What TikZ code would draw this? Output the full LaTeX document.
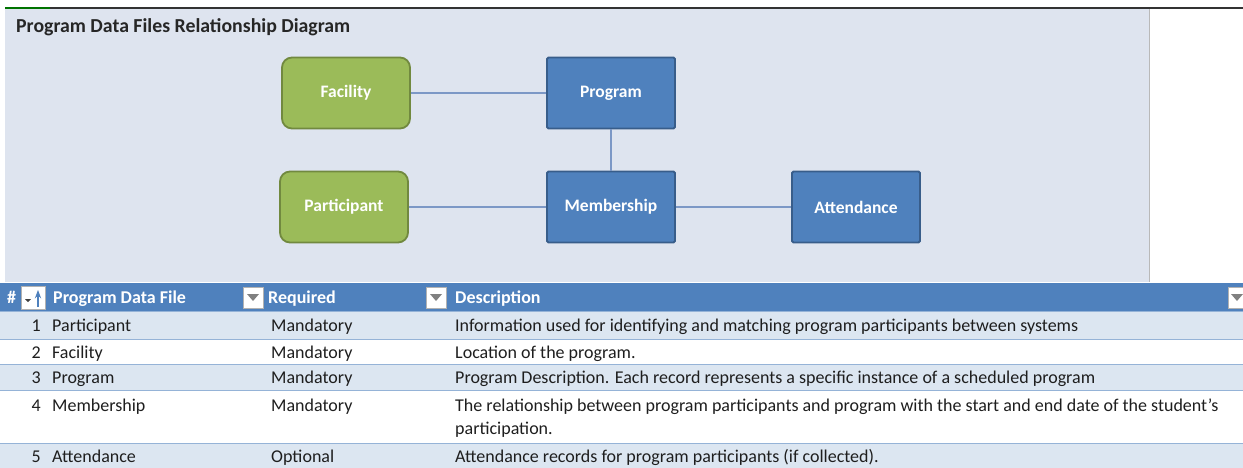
\documentclass[tikz,border=0pt]{standalone}
\usepackage{fontspec}
\setmainfont{Carlito}
\usepackage{tikz}
\usetikzlibrary{arrows.meta}
\usepackage{xcolor}
\definecolor{panelbg}{RGB}{222, 228, 239}
\definecolor{facgreen}{RGB}{155, 187, 89}
\definecolor{facgreenD}{RGB}{113, 137, 63}
\definecolor{progblue}{RGB}{79, 129, 189}
\definecolor{progblueD}{RGB}{56, 93, 138}
\definecolor{linkblue}{RGB}{124, 152, 198}
\definecolor{bandblue}{RGB}{220, 230, 241}
\definecolor{rulblue}{RGB}{149, 179, 215}
\definecolor{celltext}{RGB}{30, 30, 30}

\tikzset{
  entity/.style={minimum width=128pt, minimum height=71pt, line width=1.8pt,
    text=white, font=\fontsize{17.5}{20}\selectfont\bfseries},
  greenbox/.style={entity, rounded corners=10pt, fill=facgreen, draw=facgreenD},
  bluebox/.style={entity, rounded corners=1.5pt, fill=progblue, draw=progblueD},
  link/.style={draw=linkblue, line width=2.5pt},
  cell/.style={anchor=base west, inner sep=0pt, text=celltext, font=\fontsize{18}{23}\selectfont},
  headcell/.style={cell, text=white, font=\fontsize{18}{23}\selectfont\bfseries},
  ddbox/.style={fill=white, draw=gray!60, line width=0.6pt}
}

\begin{document}
\begin{tikzpicture}[x=1pt, y=-1pt, >=Stealth]
  \useasboundingbox (0,0) rectangle (1243,468);

  % Chart panel
  \fill[panelbg] (5,9) rectangle (1149,282);
  \draw[gray!55, line width=1pt] (1149,9) -- (1149,282);
  \draw[black!80, line width=2pt] (5,8) -- (1243,8);
  \draw[green!45!black, line width=2pt] (5,8) -- (50,8);
  \node[anchor=base west, inner sep=0pt, font=\fontsize{19.8}{24}\selectfont\bfseries, text=black!85] (title) at (16,33) {Program Data Files Relationship Diagram};

  % Entities
  \node[greenbox] (facility) at (346,93) {Facility};
  \node[bluebox] (program) at (611,93) {Program};
  \node[greenbox] (participant) at (344,207) {Participant};
  \node[bluebox] (membership) at (611,207) {Membership};
  \node[bluebox] (attendance) at (856,207) {Attendance};

  % Relationships
  \draw[link] (facility) -- (program);
  \draw[link] (program) -- (membership);
  \draw[link] (participant) -- (membership);
  \draw[link] (membership) -- (attendance);

  % Table header
  \fill[progblue] (0,283) rectangle (1243,311);
  \node[headcell] (hnum) at (7,303) {\#};
  \draw[ddbox] (21,286) rectangle (45,309);
  \fill[black!75] (25,299) -- (31,299) -- (28,302) -- cycle;
  \draw[->, progblue, line width=1.2pt] (38,307) -- (38,290);
  \node[headcell] (hfile) at (53,303) {Program Data File};
  \draw[ddbox] (243,287) rectangle (263,308);
  \fill[gray] (247,294) -- (259,294) -- (253,301) -- cycle;
  \node[headcell] (hreq) at (268,303) {Required};
  \draw[ddbox] (426,287) rectangle (446,308);
  \fill[gray] (430,294) -- (442,294) -- (436,301) -- cycle;
  \node[headcell] (hdesc) at (455,303) {Description};
  \draw[ddbox] (1228,287) rectangle (1248,308);
  \fill[gray] (1231,294) -- (1243,294) -- (1237,301) -- cycle;

  % Row bands
  \fill[bandblue] (0,311) rectangle (1243,339);
  \fill[bandblue] (0,364) rectangle (1243,390);
  \fill[bandblue] (0,443) rectangle (1243,468);
  \foreach \yy in {311,339,364,390,443}
    \draw[rulblue, line width=1pt] (0,\yy) -- (1243,\yy);

  % Rows (baselines)
  \foreach \n/\file/\req/\yy in {1/Participant/Mandatory/331, 2/Facility/Mandatory/358,
      3/Program/Mandatory/383, 4/Membership/Mandatory/411, 5/Attendance/Optional/462} {
    \node[cell, anchor=base east] (num\n) at (41,\yy) {\n};
    \node[cell] (file\n) at (52,\yy) {\file};
    \node[cell] (req\n) at (271,\yy) {\req};
  }
  \node[cell] (desc1) at (455,331) {Information used for identifying and matching program participants between systems};
  \node[cell] (desc2) at (455,358) {Location of the program.};
  \node[cell] (desc3) at (455,383) {Program Description. Each record represents a specific instance of a scheduled program};
  \node[cell] (desc4) at (455,411) {The relationship between program participants and program with the start and end date of the student’s};
  \node[cell] (desc4b) at (455,434) {participation.};
  \node[cell] (desc5) at (455,462) {Attendance records for program participants (if collected).};
\end{tikzpicture}
\end{document}
